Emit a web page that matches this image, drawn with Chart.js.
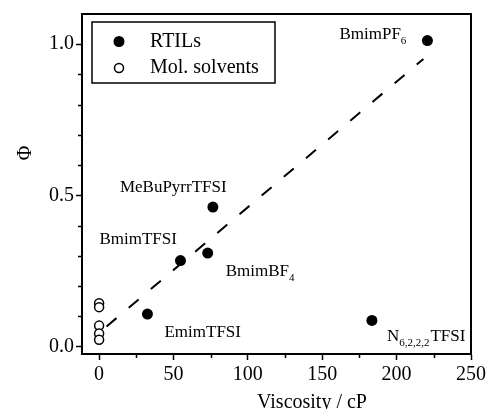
<!DOCTYPE html>
<html>
<head>
<meta charset="utf-8">
<script src="https://cdn.jsdelivr.net/npm/chart.js@4.4.1/dist/chart.umd.min.js"></script>
<style>
    html, body { margin: 0; padding: 0; background: #fff; }
    #wrap { width: 489px; height: 409px; }
</style>
</head>
<body>
<div id="wrap"><canvas id="chart" width="489" height="409"></canvas></div>
<script>
// RTILs: viscosity (cP) vs Phi
const rtilNames = ["BmimPF6", "MeBuPyrrTFSI", "BmimTFSI", "BmimBF4", "EmimTFSI", "N6222TFSI"];
const rtilVisc = [220.7, 76.5, 54.7, 73.0, 32.5, 183.4];
const rtilPhi = [1.012, 0.461, 0.284, 0.309, 0.107, 0.086];

// molecular solvents (all near zero viscosity)
const molVisc = [0, 0, 0, 0, 0];
const molPhi = [0.143, 0.130, 0.069, 0.043, 0.022];

// dashed linear fit, end points
const fitVisc = [5.0, 218.0];
const fitPhi = [0.066, 0.951];

const xTicks = [0, 50, 100, 150, 200, 250];
const xMinor = [25, 75, 125, 175, 225];
const yTicks = [0.0, 0.5, 1.0];
const yMinor = [0.1, 0.2, 0.3, 0.4, 0.6, 0.7, 0.8, 0.9];

const serif = "'Liberation Serif', 'Times New Roman', serif";

function toPoints(xs, ys) {
    return xs.map((x, i) => ({ x: x, y: ys[i] }));
}

// label text parts: [main, subscript, after], offsets from the point in px
const labelDefs = {
    "BmimPF6": { parts: ["BmimPF", "6", ""], dx: -88, dy: -2 },
    "MeBuPyrrTFSI": { parts: ["MeBuPyrrTFSI", "", ""], dx: -93, dy: -15 },
    "BmimTFSI": { parts: ["BmimTFSI", "", ""], dx: -81, dy: -17 },
    "BmimBF4": { parts: ["BmimBF", "4", ""], dx: 18, dy: 23 },
    "EmimTFSI": { parts: ["EmimTFSI", "", ""], dx: 17, dy: 23 },
    "N6222TFSI": { parts: ["N", "6,2,2,2", "TFSI"], dx: 15, dy: 21 }
};

const decorPlugin = {
    id: "decor",
    afterDraw(chart) {
        const ctx = chart.ctx;
        const a = chart.chartArea;
        const xs = chart.scales.x;
        const ys = chart.scales.y;
        ctx.save();

        // frame top + right
        ctx.strokeStyle = "#000";
        ctx.lineWidth = 2;
        ctx.beginPath();
        ctx.moveTo(a.left, a.top);
        ctx.lineTo(a.right, a.top);
        ctx.lineTo(a.right, a.bottom);
        ctx.stroke();

        // minor ticks
        ctx.lineWidth = 1.5;
        ctx.beginPath();
        for (const v of xMinor) {
            const px = Math.round(xs.getPixelForValue(v)) + 0.5;
            ctx.moveTo(px, a.bottom);
            ctx.lineTo(px, a.bottom + 4);
        }
        for (const v of yMinor) {
            const py = Math.round(ys.getPixelForValue(v)) + 0.5;
            ctx.moveTo(a.left, py);
            ctx.lineTo(a.left - 4, py);
        }
        ctx.stroke();

        // point labels
        ctx.fillStyle = "#000";
        ctx.textBaseline = "alphabetic";
        ctx.textAlign = "left";
        const meta = chart.getDatasetMeta(0);
        rtilNames.forEach((name, i) => {
            const el = meta.data[i];
            const d = labelDefs[name];
            let x = el.x + d.dx;
            const y = el.y + d.dy;
            ctx.font = "17px " + serif;
            ctx.fillText(d.parts[0], x, y);
            x += ctx.measureText(d.parts[0]).width;
            if (d.parts[1]) {
                ctx.font = "11px " + serif;
                ctx.fillText(d.parts[1], x, y + 5);
                x += ctx.measureText(d.parts[1]).width + 1;
            }
            if (d.parts[2]) {
                ctx.font = "17px " + serif;
                ctx.fillText(d.parts[2], x, y);
            }
        });

        // legend box
        ctx.lineWidth = 1.5;
        ctx.strokeRect(92, 22, 183, 61);
        ctx.beginPath();
        ctx.arc(119, 41.5, 5.5, 0, Math.PI * 2);
        ctx.fill();
        ctx.beginPath();
        ctx.arc(119, 68, 4.5, 0, Math.PI * 2);
        ctx.fillStyle = "#fff";
        ctx.fill();
        ctx.stroke();
        ctx.fillStyle = "#000";
        ctx.font = "20px " + serif;
        ctx.textBaseline = "middle";
        ctx.fillText("RTILs", 150, 41.5);
        ctx.fillText("Mol. solvents", 150, 68);

        // axis titles
        ctx.textAlign = "center";
        ctx.textBaseline = "alphabetic";
        ctx.fillText("Viscosity / cP", 312, 408);
        ctx.translate(31, 153);
        ctx.rotate(-Math.PI / 2);
        ctx.fillText("\u03A6", 0, 0);

        ctx.restore();
    }
};

Chart.defaults.font.family = serif;
Chart.defaults.color = "#000";

new Chart(document.getElementById("chart"), {
    type: "scatter",
    data: {
        datasets: [
            {
                label: "RTILs",
                data: toPoints(rtilVisc, rtilPhi),
                backgroundColor: "#000",
                borderColor: "#000",
                pointRadius: 5.5,
                pointBorderWidth: 0
            },
            {
                label: "Mol. solvents",
                data: toPoints(molVisc, molPhi),
                backgroundColor: "#fff",
                borderColor: "#000",
                pointRadius: 4.5,
                pointBorderWidth: 1.5
            },
            {
                label: "fit",
                data: toPoints(fitVisc, fitPhi),
                showLine: true,
                borderColor: "#000",
                borderWidth: 2,
                borderDash: [13, 16],
                pointRadius: 0
            }
        ]
    },
    options: {
        responsive: false,
        animation: false,
        layout: { padding: { left: 0, top: 14, right: 17, bottom: 0 } },
        plugins: {
            legend: { display: false },
            tooltip: { enabled: false }
        },
        scales: {
            x: {
                type: "linear",
                min: -11.5,
                max: 250,
                afterBuildTicks: axis => { axis.ticks = xTicks.map(v => ({ value: v })); },
                afterFit: axis => { axis.height = 55; },
                ticks: {
                    font: { size: 20 },
                    color: "#000",
                    padding: 3,
                    maxRotation: 0
                },
                grid: {
                    drawOnChartArea: false,
                    drawTicks: true,
                    tickLength: 6,
                    tickWidth: 1.5,
                    tickColor: "#000"
                },
                border: { color: "#000", width: 2 }
            },
            y: {
                type: "linear",
                min: -0.025,
                max: 1.1,
                afterBuildTicks: axis => { axis.ticks = yTicks.map(v => ({ value: v })); },
                afterFit: axis => { axis.width = 82; },
                ticks: {
                    font: { size: 20 },
                    color: "#000",
                    padding: 2,
                    callback: v => v.toFixed(1)
                },
                grid: {
                    drawOnChartArea: false,
                    drawTicks: true,
                    tickLength: 6,
                    tickWidth: 1.5,
                    tickColor: "#000"
                },
                border: { color: "#000", width: 2 }
            }
        }
    },
    plugins: [decorPlugin]
});
</script>
</body>
</html>
